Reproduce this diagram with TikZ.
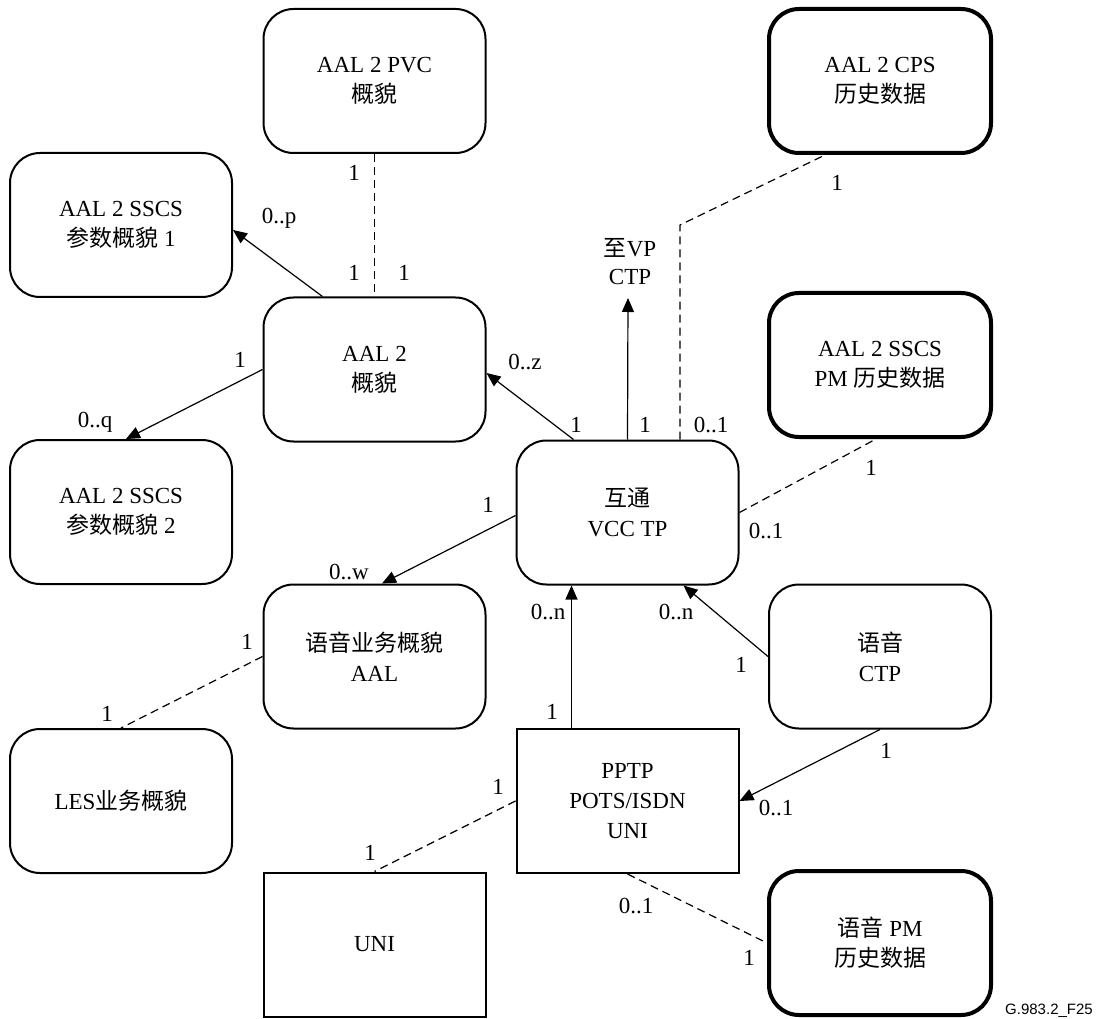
\documentclass[tikz,border=0pt]{standalone}
\usepackage{fontspec}
\setmainfont{Liberation Serif}
\newfontfamily\cjk{Noto Sans CJK SC}
\newfontfamily\tagfont{Liberation Sans}
\usetikzlibrary{arrows.meta}
\newcommand{\zh}[1]{{\cjk #1}}
\tikzset{
  box/.style={draw, line width=2pt, rounded corners=30pt, minimum width=222pt,
    minimum height=144pt, align=center, inner sep=0pt,
    font=\fontsize{23}{30}\selectfont},
  thickbox/.style={box, line width=4pt},
  sqbox/.style={box, rounded corners=0pt},
  conn/.style={line width=1.2pt, -{Triangle[length=14pt,width=12pt]}},
  dashlink/.style={line width=1.2pt, dash pattern=on 8pt off 5pt},
  lbl/.style={inner sep=0pt, font=\fontsize{23}{28}\selectfont, align=center}
}
\begin{document}
\begin{tikzpicture}[x=1pt,y=-1pt]
\useasboundingbox (0,0) rectangle (1101,1019);

% object classes
\node[box]      (pvc)    at (374.5,81)  {AAL 2 PVC\\\zh{概貌}};
\node[thickbox] (cps)    at (880,81)    {AAL 2 CPS\\\zh{历史数据}};
\node[box]      (sscs1)  at (121,225)   {AAL 2 SSCS\\\zh{参数概貌} 1};
\node[box]      (aal2)   at (374.5,369.5) {AAL 2\\\zh{概貌}};
\node[thickbox] (sscspm) at (880,365)   {AAL 2 SSCS\\PM \zh{历史数据}};
\node[box]      (sscs2)  at (121,512)   {AAL 2 SSCS\\\zh{参数概貌} 2};
\node[box]      (vcc)    at (627.5,512.5) {\zh{互通}\\VCC TP};
\node[box]      (vprof)  at (374.5,656.5) {\zh{语音业务概貌}\\AAL};
\node[box]      (vctp)   at (880,656.5) {\zh{语音}\\CTP};
\node[box]      (les)    at (121,801)   {LES\zh{业务概貌}};
\node[sqbox]    (pptp)   at (627.5,801) {PPTP\\POTS/ISDN\\UNI};
\node[sqbox]    (uni)    at (374.5,944.5) {UNI};
\node[thickbox] (vpm)    at (880,943)   {\zh{语音} PM\\\zh{历史数据}};

% upward reference to the VP CTP
\coordinate (vp) at (628,298);
\node[lbl] (vptext) at (630,262) {\zh{至}VP\\CTP};
\coordinate (bend) at (680,225);

% solid associations
\draw[conn] ([xshift=60pt]aal2.north west) -- ([yshift=-5pt]sscs1.east);
\draw[conn] (aal2.west) -- ([xshift=5pt]sscs2.north);
\draw[conn] ([xshift=58pt]vcc.north west) -- ([yshift=-3.5pt]aal2.east);
\draw[conn] (vcc.north) -- (vp);
\draw[conn] ([yshift=-3pt]vcc.west) -- ([xshift=7.5pt]vprof.north);
\draw[conn] ([xshift=56pt]pptp.north west) -- ([xshift=56pt]vcc.south west);
\draw[conn] (vctp.west) -- ([xshift=-56pt]vcc.south east);
\draw[conn] (vctp.south) -- (pptp.east);

% dashed associations
\draw[dashlink] (pvc.south) -- (aal2.north);
\draw[dashlink] (bend |- vcc.north) -- (bend) -- ([xshift=58pt]cps.south west);
\draw[dashlink] (vcc.east) -- ([xshift=-4pt]sscspm.south);
\draw[dashlink] (vprof.west) -- (les.north);
\draw[dashlink] (pptp.west) -- (uni.north);
\draw[dashlink] (pptp.south) -- (vpm.west);

% multiplicities
\node[lbl] (m1)  at (354,173) {1};
\node[lbl] (m2)  at (354,273) {1};
\node[lbl] (m3)  at (404,273) {1};
\node[lbl] (m4)  at (279,218) {0..p};
\node[lbl] (m5)  at (240,360) {1};
\node[lbl] (m6)  at (95,422)  {0..q};
\node[lbl] (m7)  at (525,362) {0..z};
\node[lbl] (m8)  at (837,183) {1};
\node[lbl] (m9)  at (576,425) {1};
\node[lbl] (m10) at (645,425) {1};
\node[lbl] (m11) at (711,425) {0..1};
\node[lbl] (m12) at (871,468) {1};
\node[lbl] (m13) at (766,531) {0..1};
\node[lbl] (m14) at (488,505) {1};
\node[lbl] (m15) at (349,572) {0..w};
\node[lbl] (m16) at (247,642) {1};
\node[lbl] (m17) at (107,714) {1};
\node[lbl] (m18) at (548,612) {0..n};
\node[lbl] (m19) at (552,712) {1};
\node[lbl] (m20) at (676,612) {0..n};
\node[lbl] (m21) at (741,665) {1};
\node[lbl] (m22) at (886,751) {1};
\node[lbl] (m23) at (776,808) {0..1};
\node[lbl] (m24) at (498,787) {1};
\node[lbl] (m25) at (370,853) {1};
\node[lbl] (m26) at (636,906) {0..1};
\node[lbl] (m27) at (749,958) {1};

% figure tag
\node[inner sep=0pt, font=\tagfont\fontsize{15}{17}\selectfont] (tag) at (1049,1011) {G.983.2\_F25};
\end{tikzpicture}
\end{document}
